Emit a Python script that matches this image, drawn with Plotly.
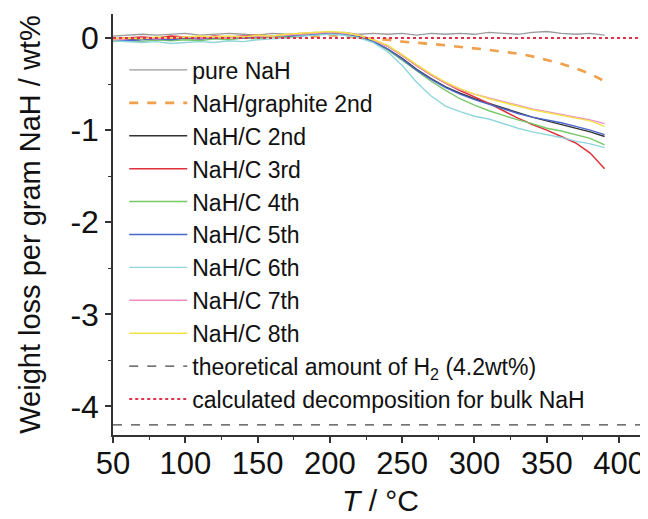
import plotly.graph_objects as go

# Temperature grid (°C)
T = [50, 60, 70, 80, 90, 100, 110, 120, 130, 140, 150, 160, 170, 180, 190, 200, 210,
     220, 230, 240, 250, 260, 270, 280, 290, 300, 310, 320, 330, 340, 350, 360, 370, 380, 390]

pure_NaH = [0.02, 0.03, 0.04, 0.03, 0.04, 0.05, 0.03, 0.04, 0.05, 0.04, 0.03, 0.05, 0.04, 0.05, 0.06, 0.05, 0.06,
            0.04, 0.05, 0.04, 0.05, 0.03, 0.05, 0.04, 0.05, 0.04, 0.06, 0.05, 0.04, 0.06, 0.07, 0.05, 0.04, 0.05, 0.03]
graphite_2nd = [-0.02, -0.01, -0.02, -0.01, 0.0, -0.01, 0.0, 0.01, 0.0, 0.01, 0.0, 0.01, 0.02, 0.01, 0.02, 0.03, 0.02,
                0.0, -0.01, -0.02, -0.04, -0.05, -0.065, -0.08, -0.095, -0.11, -0.13, -0.15, -0.17, -0.2, -0.24, -0.28, -0.33, -0.39, -0.47]
C_2nd = [-0.03, -0.02, -0.01, -0.02, -0.01, 0.0, -0.01, 0.0, 0.01, 0.0, 0.01, 0.02, 0.01, 0.03, 0.04, 0.05, 0.05,
         0.02, -0.04, -0.12, -0.22, -0.34, -0.44, -0.53, -0.60, -0.66, -0.71, -0.76, -0.81, -0.86, -0.90, -0.94, -0.98, -1.02, -1.07]
C_3rd = [-0.01, 0.0, 0.01, 0.0, 0.02, 0.01, 0.0, 0.02, 0.01, 0.02, 0.03, 0.02, 0.03, 0.04, 0.05, 0.06, 0.05,
         0.03, -0.02, -0.09, -0.19, -0.30, -0.40, -0.49, -0.57, -0.64, -0.71, -0.79, -0.87, -0.94, -1.00, -1.07, -1.14, -1.25, -1.42]
C_4th = [-0.04, -0.03, -0.04, -0.02, -0.03, -0.02, -0.03, -0.01, -0.02, 0.0, -0.01, 0.01, 0.02, 0.03, 0.04, 0.05, 0.04,
         0.01, -0.04, -0.13, -0.24, -0.36, -0.47, -0.57, -0.66, -0.73, -0.79, -0.84, -0.89, -0.93, -0.98, -1.01, -1.05, -1.09, -1.16]
C_5th = [-0.02, -0.03, -0.02, -0.01, -0.02, 0.0, -0.01, 0.0, 0.01, 0.0, 0.01, 0.02, 0.03, 0.02, 0.04, 0.05, 0.04,
         0.02, -0.04, -0.12, -0.23, -0.35, -0.45, -0.54, -0.61, -0.67, -0.72, -0.77, -0.82, -0.86, -0.89, -0.92, -0.96, -1.00, -1.05]
C_6th = [-0.03, -0.04, -0.05, -0.04, -0.06, -0.05, -0.04, -0.05, -0.03, -0.04, -0.02, -0.01, 0.0, 0.02, 0.03, 0.04, 0.03,
         0.0, -0.05, -0.15, -0.30, -0.48, -0.63, -0.74, -0.80, -0.85, -0.88, -0.93, -0.98, -1.02, -1.05, -1.08, -1.12, -1.15, -1.19]
C_7th = [-0.02, -0.01, 0.0, -0.01, 0.0, 0.01, 0.0, 0.01, 0.0, 0.02, 0.01, 0.02, 0.03, 0.04, 0.05, 0.06, 0.05,
         0.03, -0.02, -0.09, -0.19, -0.30, -0.40, -0.49, -0.56, -0.61, -0.65, -0.69, -0.73, -0.77, -0.80, -0.83, -0.86, -0.89, -0.93]
C_8th = [-0.01, 0.0, -0.01, 0.01, 0.0, 0.01, 0.02, 0.01, 0.02, 0.01, 0.03, 0.02, 0.04, 0.05, 0.06, 0.07, 0.06,
         0.03, -0.02, -0.08, -0.18, -0.29, -0.39, -0.48, -0.55, -0.61, -0.66, -0.70, -0.74, -0.78, -0.81, -0.84, -0.87, -0.90, -0.96]

ref_T = [50, 420]
theoretical_H2 = [-4.2, -4.2]
calc_bulk = [0.0, 0.0]

x_tickvals = [50, 100, 150, 200, 250, 300, 350, 400]
x_ticktext = ["50", "100", "150", "200", "250", "300", "350", "400"]
y_tickvals = [0, -1, -2, -3, -4]
y_ticktext = ["0", "-1", "-2", "-3", "-4"]

series = [
    ("pure NaH", pure_NaH, "#9a9a9a", 1.3, "solid"),
    ("NaH/graphite 2nd", graphite_2nd, "#f0a04a", 2.6, "dash"),
    ("NaH/C 2nd", C_2nd, "#333333", 1.4, "solid"),
    ("NaH/C 3rd", C_3rd, "#e0303a", 1.5, "solid"),
    ("NaH/C 4th", C_4th, "#78c868", 1.4, "solid"),
    ("NaH/C 5th", C_5th, "#4a66cc", 1.4, "solid"),
    ("NaH/C 6th", C_6th, "#8fd6dc", 1.4, "solid"),
    ("NaH/C 7th", C_7th, "#ee8cc4", 1.4, "solid"),
    ("NaH/C 8th", C_8th, "#f2e24a", 1.5, "solid"),
]

FONT = "Liberation Sans, Arial, sans-serif"

fig = go.Figure()
for name, ys, color, w, dash in series:
    fig.add_trace(go.Scatter(x=T, y=ys, mode="lines", name=name,
                             line=dict(color=color, width=w, dash=dash)))

fig.add_trace(go.Scatter(x=ref_T, y=theoretical_H2, mode="lines",
                         name="theoretical amount of H<sub>2</sub> (4.2wt%)",
                         line=dict(color="#444444", width=1.3, dash="dash")))
fig.add_trace(go.Scatter(x=ref_T, y=calc_bulk, mode="lines",
                         name="calculated decomposition for bulk NaH",
                         line=dict(color="#e0304a", width=2, dash="dot")))

fig.update_layout(
    width=640, height=511,
    margin=dict(l=105, r=0, t=6, b=84),
    paper_bgcolor="white", plot_bgcolor="white",
    font=dict(family=FONT, color="#111111"),
    showlegend=True,
    legend=dict(x=0.021, y=0.918, xanchor="left", yanchor="top",
                bgcolor="rgba(0,0,0,0)", font=dict(size=23, family=FONT, color="#111111"),
                itemwidth=58, tracegroupgap=0),
    xaxis=dict(range=[50, 420], tickmode="array", tickvals=x_tickvals, ticktext=x_ticktext,
               showgrid=False, zeroline=False,
               showline=True, linecolor="#333333", linewidth=1.5,
               ticks="outside", ticklen=6, tickwidth=1.5, tickcolor="#333333",
               ticklabelstandoff=-6,
               minor=dict(ticks="outside", ticklen=3, dtick=25, tick0=50, tickcolor="#333333", tickwidth=1.2),
               tickfont=dict(size=31, family=FONT, color="#111111"),
               title=dict(text="<i>T</i> / °C", font=dict(size=30, family=FONT, color="#111111"), standoff=10)),
    yaxis=dict(range=[-4.31, 0.26], tickmode="array", tickvals=y_tickvals, ticktext=y_ticktext,
               showgrid=False, zeroline=False,
               showline=True, linecolor="#333333", linewidth=1.5,
               ticks="outside", ticklen=6, tickwidth=1.5, tickcolor="#333333",
               minor=dict(ticks="outside", ticklen=3, dtick=0.5, tick0=0, tickcolor="#333333", tickwidth=1.2),
               tickfont=dict(size=32, family=FONT, color="#111111"),
               title=dict(text="Weight loss per gram NaH / wt%", font=dict(size=29, family=FONT, color="#111111"), standoff=21)),
)

fig.write_html("out.html")
